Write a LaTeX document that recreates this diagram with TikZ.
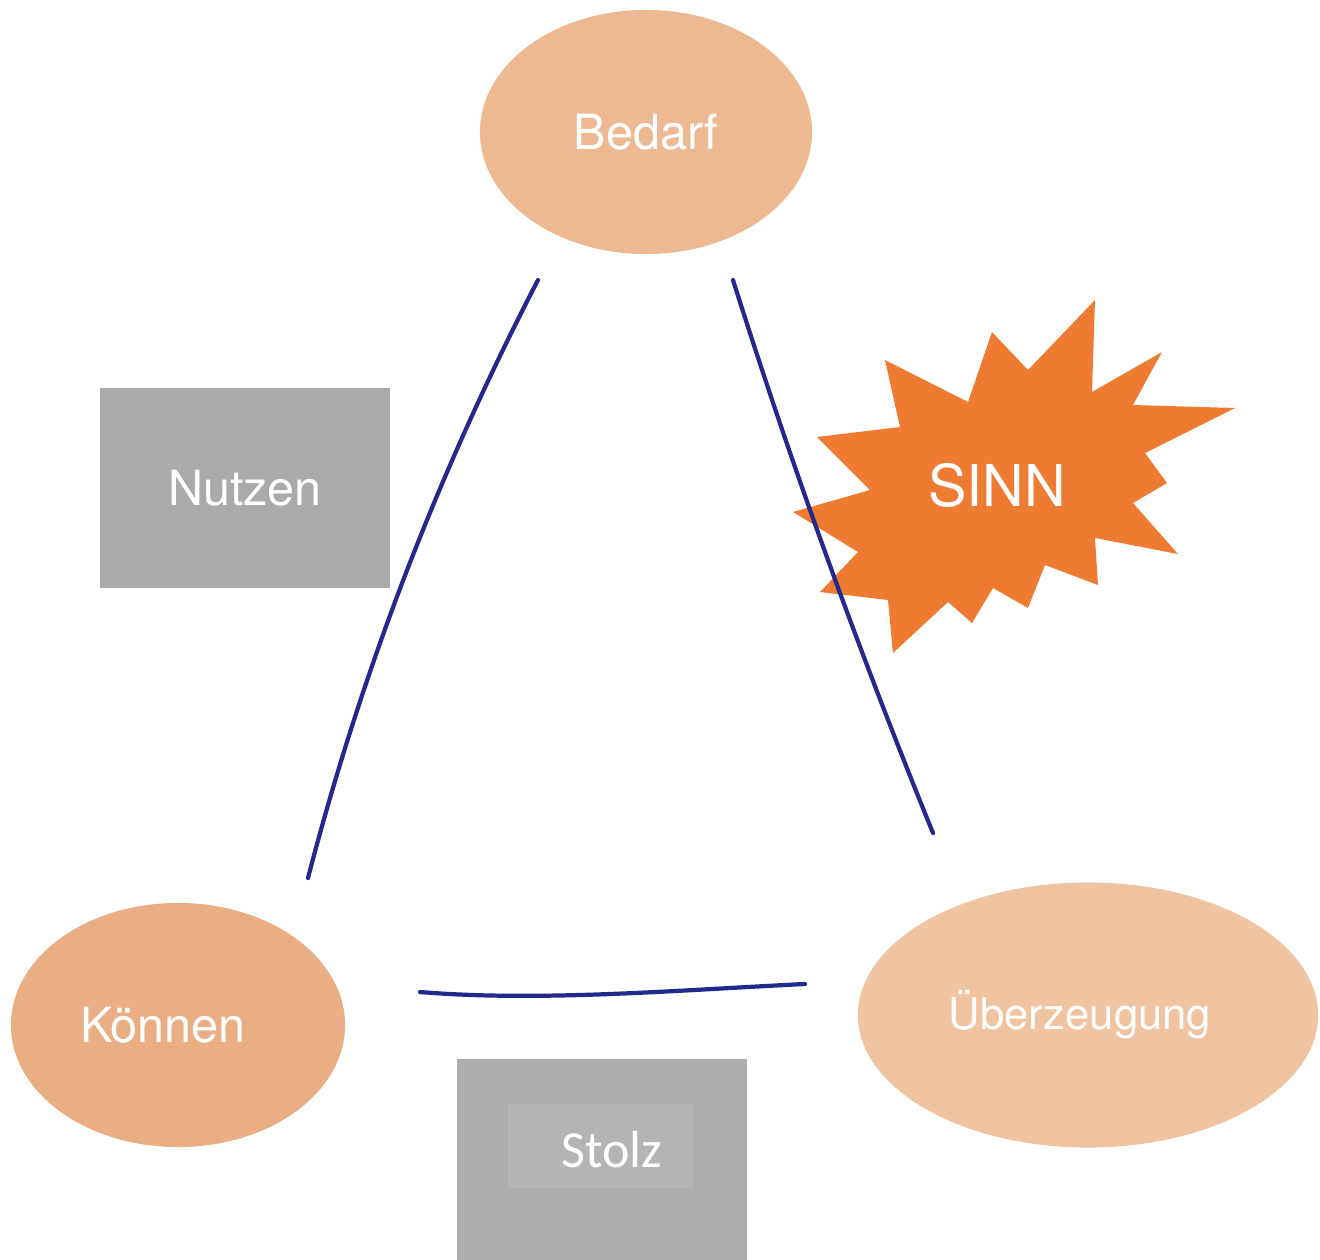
\documentclass[tikz,border=0pt]{standalone}
\usepackage{fontspec}
\setmainfont{TeX Gyre Heros}
\newfontfamily\stolzfont{Carlito}
\usetikzlibrary{shapes.geometric}
\definecolor{bedarfcol}{RGB}{237,185,147}
\definecolor{koennencol}{RGB}{233,174,132}
\definecolor{ueberzcol}{RGB}{240,196,161}
\definecolor{boxgrey}{RGB}{170,170,170}
\definecolor{stolzgrey}{RGB}{173,173,173}
\definecolor{stolzinner}{RGB}{180,180,180}
\definecolor{sinncol}{RGB}{239,122,49}
\definecolor{inkblue}{RGB}{35,40,140}

\begin{document}
\begin{tikzpicture}[
            x = 0.01cm, y = -0.01cm,
            every node/.style = {text = white, inner sep = 0pt},
            blob/.style = {ellipse, fill = #1, font = \fontsize{13.8}{16}\selectfont},
            greybox/.style = {rectangle, fill = #1, minimum width = 2.9cm},
            stroke/.style = {draw = inkblue, line width = 1.2pt, line cap = round}
        ]
        \useasboundingbox (0,0) rectangle (1320,1260);
        % ellipses
        \node[blob = bedarfcol, minimum width = 3.32cm, minimum height = 2.44cm] (bedarf) at (646,132) {Bedarf};
        \node[blob = koennencol, minimum width = 3.34cm, minimum height = 2.44cm] (koennen) at (178,1025) {\hspace*{-0.3cm}Können};
        \node[blob = ueberzcol, minimum width = 4.6cm, minimum height = 2.65cm,
            font = \fontsize{12.4}{15}\selectfont] (ueberzeugung) at (1088,1015) {\hspace*{-0.16cm}Überzeugung};
        % boxes
        \node[greybox = boxgrey, minimum height = 1.99cm, font = \fontsize{13.8}{16}\selectfont] (nutzen) at (245,488) {Nutzen};
        \node[greybox = stolzgrey, minimum height = 2.01cm] (stolz) at (602,1160) {};
        \node[fill = stolzinner, minimum width = 1.86cm, minimum height = 0.84cm] (stolzin) at (601,1146) {};
        \node[font = \stolzfont\fontsize{14.8}{17}\selectfont] (stolztext) at (612,1150) {Stolz};
        % star
        \fill[sinncol] (1095,300) -- (1092,392) -- (1162,352) -- (1133,405) -- (1235,408)
            -- (1145,453) -- (1167,483) -- (1133,503) -- (1178,554) -- (1095,538)
            -- (1098,585) -- (1045,565) -- (1028,608) -- (993,588) -- (972,623)
            -- (948,602) -- (893,653) -- (888,600) -- (820,592) -- (858,552)
            -- (793,512) -- (870,490) -- (817,437) -- (900,427) -- (885,360)
            -- (968,402) -- (992,332) -- (1028,370) -- cycle;
        \node[font = \fontsize{16.4}{19}\selectfont] (sinn) at (997,485) {SINN};
        % lines
        \coordinate (lt) at (538,280);
        \coordinate (lb) at (308,878);
        \coordinate (rt) at (733,280);
        \coordinate (rb) at (933,833);
        \coordinate (bl) at (420,992);
        \coordinate (br) at (805,984);
        \draw[stroke] (lt) .. controls (439,471) and (362,670) .. (lb);
        \draw[stroke] (rt) .. controls (792,467) and (859,651) .. (rb);
        \draw[stroke] (bl) .. controls (540,1002) and (680,990) .. (br);
    \end{tikzpicture}
\end{document}
